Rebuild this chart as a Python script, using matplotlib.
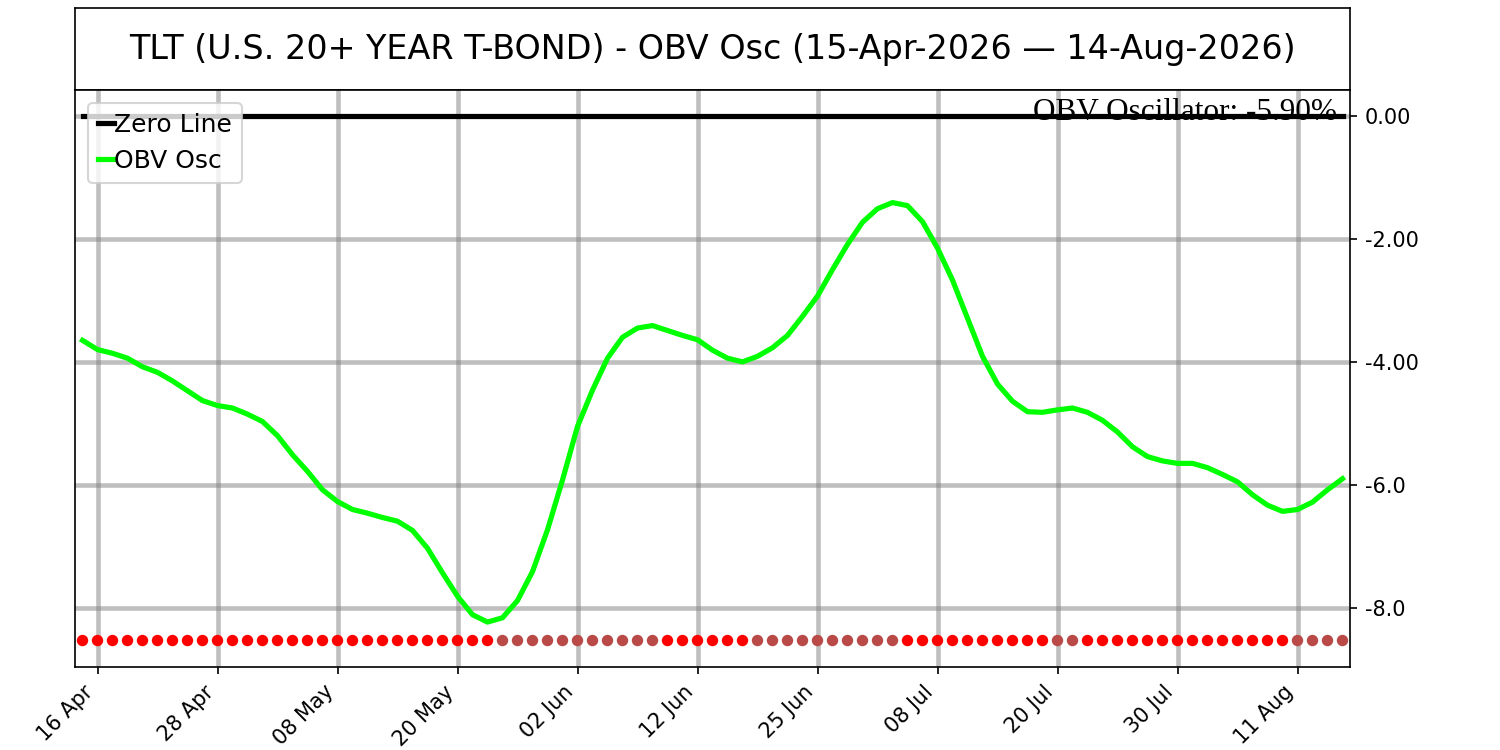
import matplotlib.pyplot as plt
import numpy as np
import pandas as pd

# OBV oscillator values, one per trading day
obv_osc = [-3.65, -3.80, -3.86, -3.94, -4.08, -4.17, -4.31, -4.47, -4.63, -4.71,
           -4.75, -4.85, -4.97, -5.20, -5.51, -5.78, -6.08, -6.27, -6.40, -6.46,
           -6.53, -6.59, -6.74, -7.03, -7.43, -7.81, -8.11, -8.23, -8.16, -7.88,
           -7.41, -6.73, -5.92, -5.05, -4.46, -3.94, -3.60, -3.45, -3.41, -3.49,
           -3.57, -3.64, -3.81, -3.94, -4.00, -3.91, -3.77, -3.57, -3.26, -2.93,
           -2.50, -2.09, -1.73, -1.51, -1.41, -1.46, -1.72, -2.15, -2.67, -3.29,
           -3.91, -4.36, -4.64, -4.81, -4.82, -4.78, -4.75, -4.82, -4.95, -5.14,
           -5.38, -5.54, -5.61, -5.65, -5.65, -5.72, -5.83, -5.95, -6.16, -6.33,
           -6.43, -6.40, -6.28, -6.08, -5.90]

# 1 = muted (brown) dot, 0 = red dot
dot_flag = [0] * 28 + [1] * 11 + [0] * 6 + [1] * 10 + [0] * 10 + [1] * 2 + [0] * 14 + [1] * 4

holidays = ['2026-05-25', '2026-06-19', '2026-07-03']
dates = pd.bdate_range('2026-04-15', '2026-08-14')
dates = dates[~dates.isin(pd.to_datetime(holidays))]

yticks = [0, -2, -4, -6, -8]
ytick_labels = ['0.00', '-2.00', '-4.00', '-6.0', '-8.0']

title = 'TLT (U.S. 20+ YEAR T-BOND) - OBV Osc (15-Apr-2026 \u2014 14-Aug-2026)'

osc = np.array(obv_osc)
x = np.arange(len(osc))

fig = plt.figure(figsize=(10, 5), dpi=150)

# title box
tax = fig.add_axes([0.05, 0.88, 0.85, 0.109])
tax.set_xticks([])
tax.set_yticks([])
tax.text(0.5, 0.5, title, ha='center', va='center', fontsize=16, transform=tax.transAxes)

ax = fig.add_axes([0.05, 0.1107, 0.85, 0.7693])
ax.grid(True, color='gray', alpha=0.5, linewidth=2.2)
ax.set_axisbelow(True)

ax.plot(x, np.zeros(len(x)), color='black', linewidth=2.5, label='Zero Line', zorder=4)
ax.plot(x, osc, color='lime', linewidth=2.5, label='OBV Osc', zorder=3)

dot_y = osc.min() - 0.3
cols = ['#b94a48' if f else 'red' for f in dot_flag]
ax.scatter(x, np.full(len(x), dot_y), c=cols, s=30, zorder=3, linewidths=0)

ax.text(0.99, 0.948, 'OBV Oscillator: %.2f%%' % osc[-1], ha='right', va='baseline',
        fontsize=15, family='Liberation Serif', transform=ax.transAxes, zorder=2)

ax.set_xlim(-0.5, len(x) - 0.5)
ax.set_ylim(osc.min() - 0.73, 0.42)

ax.yaxis.tick_right()
ax.set_yticks(yticks)
ax.set_yticklabels(ytick_labels)

tick_idx = x[1::8]
ax.set_xticks(tick_idx)
ax.set_xticklabels([dates[i].strftime('%d %b') for i in tick_idx], rotation=45, ha='right')

ax.legend(loc='upper left', fontsize=12, handlelength=0.65, handletextpad=0.0)

fig.savefig('out.png', dpi=150)
